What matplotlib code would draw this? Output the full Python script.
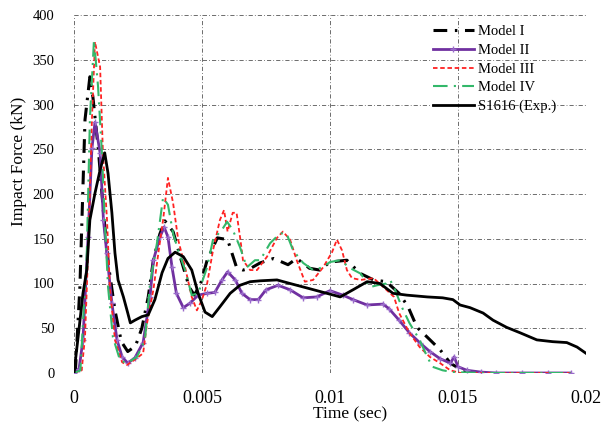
import numpy as np
import matplotlib
matplotlib.use('Agg')
import matplotlib.pyplot as plt

# time in ms (converted to sec when plotting), force in kN
t_m1 = [0.05, 0.23, 0.43, 0.62, 0.74, 0.95, 1.15, 1.35, 1.6, 1.85, 2.1, 2.4, 2.65, 2.9, 3.1, 3.35, 3.55, 3.87,
        4.2, 4.5, 4.7, 4.95, 5.2, 5.6, 6.0, 6.35, 6.6, 6.9, 7.27, 7.8, 8.36, 8.7, 9.2, 9.6, 10.0, 10.66, 11.05,
        11.2, 11.7, 12.2, 12.7, 13.05, 13.4, 13.8, 14.3, 14.7, 15.1, 15.5, 16.0]
f_m1 = [0, 96, 283, 331, 308, 250, 180, 120, 70, 35, 24, 30, 50, 85, 126, 155, 170, 158,
        125, 96, 87, 100, 126, 151, 149, 118, 115, 117, 123, 128, 121, 128, 117, 115, 124, 126, 115,
        111, 104, 102, 89, 74, 51, 40, 26, 11, 4, 1, 0]

t_m2 = [0, 0.2, 0.35, 0.55, 0.7, 0.82, 1.02, 1.15, 1.28, 1.48, 1.68, 1.88, 2.1, 2.38, 2.7, 2.97, 3.1, 3.36,
        3.52, 3.67, 3.83, 4.0, 4.27, 4.53, 4.85, 5.2, 5.5, 5.78, 6.0, 6.3, 6.56, 6.88, 7.2, 7.5, 7.97, 8.44,
        8.95, 9.48, 10.0, 10.5, 10.9, 11.45, 12.07, 12.3, 12.7, 13.1, 13.5, 13.9, 14.3, 14.7, 14.85, 15.0,
        15.35, 15.9, 16.5, 17.5, 18.5, 19.4]
f_m2 = [0, 5, 37, 152, 251, 280, 246, 171, 134, 78, 37, 18, 11, 17, 34, 85, 126, 152,
        163, 152, 118, 89, 73, 78, 87, 89, 90, 104, 113, 104, 89, 82, 82, 93, 98, 93,
        84, 85, 92, 87, 82, 76, 77, 72, 59, 45, 34, 24, 16, 11, 18, 7,
        3, 1, 0, 0, 0, 0]

t_m3 = [0, 0.3, 0.43, 0.55, 0.7, 0.82, 1.02, 1.13, 1.29, 1.4, 1.6, 1.88, 2.07, 2.38, 2.7, 2.85, 3.1, 3.3,
        3.48, 3.67, 3.87, 4.07, 4.34, 4.6, 4.8, 5.0, 5.2, 5.43, 5.7, 5.86, 6.0, 6.2, 6.35, 6.5, 6.6, 6.88,
        7.15, 7.54, 7.93, 8.16, 8.44, 8.7, 9.02, 9.34, 9.73, 10.08, 10.27, 10.47, 10.66, 10.86, 11.2, 11.7,
        12.2, 12.5, 12.7, 13.1, 13.5, 13.9, 14.3, 14.7, 15.1, 16.0, 17.5, 19.4]
f_m3 = [0, 3, 40, 134, 283, 370, 342, 246, 171, 96, 37, 12, 9, 15, 22, 55, 93, 135,
        171, 218, 190, 149, 118, 85, 70, 82, 100, 137, 171, 182, 158, 179, 179, 149, 126, 115,
        115, 130, 151, 158, 149, 126, 102, 104, 118, 135, 149, 137, 115, 106, 104, 106,
        93, 85, 67, 45, 29, 18, 11, 3, 0, 0, 0, 0]

t_m4 = [0, 0.25, 0.5, 0.62, 0.78, 0.94, 1.09, 1.2, 1.33, 1.52, 1.8, 2.07, 2.46, 2.77, 2.97, 3.24, 3.48, 3.67,
        3.87, 4.07, 4.34, 4.6, 4.85, 5.2, 5.43, 5.78, 5.98, 6.2, 6.48, 6.75, 7.07, 7.27, 7.66, 8.05, 8.3,
        8.56, 8.95, 9.34, 9.7, 10.0, 10.4, 10.8, 11.2, 11.56, 11.84, 12.2, 12.35, 12.54, 12.8, 13.1, 13.5,
        13.8, 14.0, 14.4, 14.8, 16.0, 17.5, 19.4]
f_m4 = [0, 3, 134, 283, 372, 320, 246, 171, 96, 40, 14, 11, 18, 37, 100, 145, 196, 188,
        156, 137, 115, 87, 89, 118, 149, 160, 169, 160, 141, 118, 126, 126, 145, 156, 156,
        137, 123, 115, 118, 124, 126, 117, 111, 96, 98, 100, 104, 93, 74, 56, 37,
        18, 7, 3, 1, 0, 0, 0]

t_exp = [0, 0.16, 0.35, 0.5, 0.62, 0.82, 1.02, 1.2, 1.33, 1.48, 1.6, 1.72, 1.93, 2.1, 2.2, 2.38, 2.65, 2.9,
         3.16, 3.44, 3.67, 3.95, 4.27, 4.6, 4.85, 5.12, 5.4, 5.7, 6.1, 6.48, 6.88, 7.27, 7.93, 8.44, 9.1,
         9.88, 10.4, 10.9, 11.45, 11.95, 12.46, 13.0, 13.8, 14.4, 14.8, 15.08, 15.47, 15.98, 16.37, 16.9,
         17.42, 18.08, 18.7, 19.25, 19.65, 20.0]
f_exp = [0, 40, 89, 115, 171, 201, 227, 246, 223, 179, 134, 104, 85, 67, 56, 59, 63, 65,
         82, 112, 128, 135, 130, 115, 89, 68, 63, 74, 89, 98, 102, 103, 104, 100, 95,
         89, 85, 93, 102, 100, 89, 87, 85, 84, 82, 76, 73, 67, 59, 51,
         45, 37, 35, 34, 29, 22]

labels = ['Model I', 'Model II', 'Model III', 'Model IV', 'S1616 (Exp.)']
x_ticks = [0, 0.005, 0.01, 0.015, 0.02]
x_tick_labels = ['0', '0.005', '0.01', '0.015', '0.02']
y_ticks = [0, 50, 100, 150, 200, 250, 300, 350, 400]


def sec(ms):
    return np.array(ms) / 1000.0


plt.rcParams['font.family'] = ['Liberation Serif', 'DejaVu Serif']

fig = plt.figure(figsize=(6.03, 4.25), dpi=100)
ax = fig.add_axes([74 / 603, 52 / 425, 512 / 603, 358 / 425])

ax.plot(sec(t_m1), f_m1, color='black', lw=2.2, linestyle=(0, (4.5, 2.5, 0.8, 2.5)), label=labels[0])
ax.plot(sec(t_m2), f_m2, color='#7030A0', lw=2.0, marker='+', markersize=4, markeredgewidth=1.0,
        markeredgecolor='#9A6BCB', label=labels[1])
ax.plot(sec(t_m3), f_m3, color='#FF2222', lw=1.3, linestyle=(0, (2.5, 1.5)), label=labels[2])
ax.plot(sec(t_m4), f_m4, color='#33B86A', lw=1.5, linestyle=(0, (7, 3, 1, 3)), label=labels[3])
ax.plot(sec(t_exp), f_exp, color='black', lw=2.0, label=labels[4])

ax.set_xlim(0, 0.02)
ax.set_ylim(0, 400)
ax.set_xticks(x_ticks)
ax.set_xticklabels(x_tick_labels)
ax.set_yticks(y_ticks)
ax.tick_params(axis='x', length=0, pad=12, labelsize=13)
ax.tick_params(axis='y', length=0, pad=14, labelsize=10.5)
for s in ax.spines.values():
    s.set_visible(False)
ax.grid(True, color='#555555', lw=0.6, linestyle=(0, (5, 2.5, 1, 2.5)))
ax.set_axisbelow(True)

ax.set_xlabel('Time (sec)', fontsize=12.5)
ax.xaxis.set_label_coords(0.54, -0.092)
ax.set_ylabel('Impact Force (kN)', fontsize=12.5)
ax.yaxis.set_label_coords(-0.092, 0.59)

ax.legend(loc='upper left', bbox_to_anchor=(433 / 603, 1 - 25 / 425), bbox_transform=fig.transFigure,
          frameon=False, fontsize=10.5, borderpad=0, borderaxespad=0, labelspacing=0.38,
          handlelength=2.8, handletextpad=0.3)

fig.savefig('out.png', dpi=100)
